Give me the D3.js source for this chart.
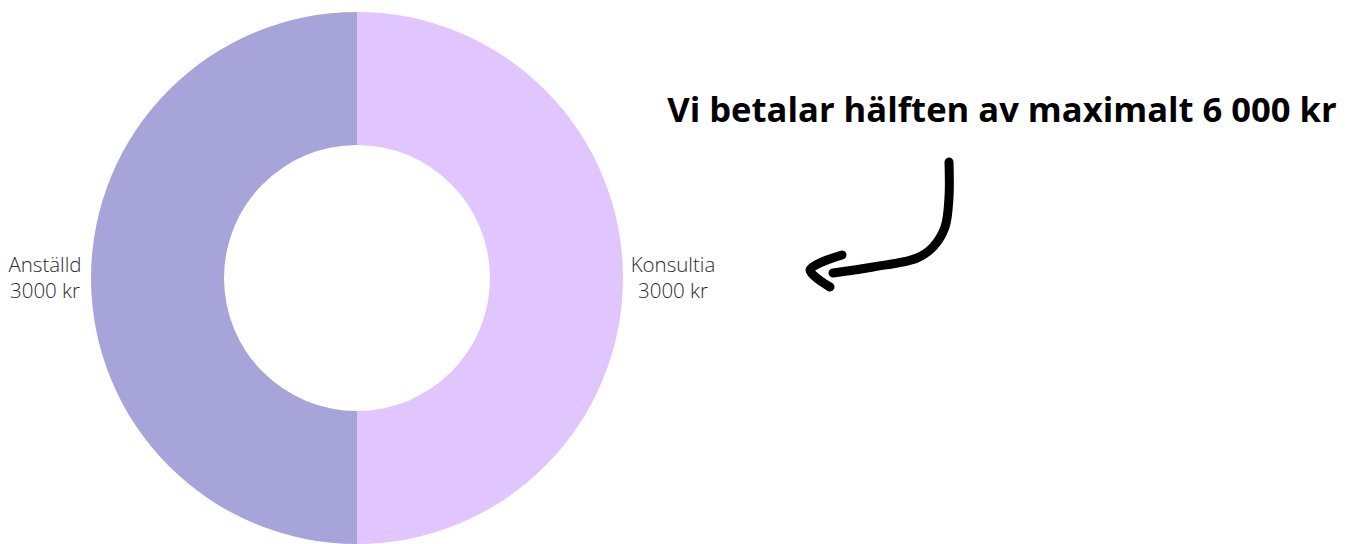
<!DOCTYPE html>
<html>
<head>
<meta charset="utf-8">
<script src="https://cdn.jsdelivr.net/npm/d3@7"></script>
<style>
  body { margin: 0; background: #fff; }
  svg { display: block; }
</style>
</head>
<body>
<div id="chart"></div>
<script>
"use strict";

// data
var categories = ["Konsultia", "Anställd"];
var values = [3000, 3000];
var valueLabels = ["3000 kr", "3000 kr"];
var colors = ["#e1c5fe", "#a6a4d8"];
var title = "Vi betalar hälften av maximalt 6 000 kr";

var width = 1355, height = 544;
var cx = 357, cy = 278;
var outerR = 266, innerR = 133;

var svg = d3.select("#chart")
        .append("svg")
        .attr("width", width)
        .attr("height", height);

var g = svg.append("g")
        .attr("transform", "translate(" + cx + "," + cy + ")");

var pie = d3.pie().sort(null).value(function (d) { return d; });
var arcs = pie(values);

var arc = d3.arc().innerRadius(innerR).outerRadius(outerR);
var labelArc = d3.arc().innerRadius(314).outerRadius(314);

g.selectAll("path.slice")
        .data(arcs)
        .enter()
        .append("path")
        .attr("class", "slice")
        .attr("d", arc)
        .attr("fill", function (d, i) { return colors[i]; });

// labels
var labels = g.selectAll("text.lbl")
        .data(arcs)
        .enter()
        .append("text")
        .attr("class", "lbl")
        .attr("transform", function (d) {
                var c = labelArc.centroid(d);
                return "translate(" + (c[0] + 2) + "," + c[1] + ")";
        })
        .attr("text-anchor", "middle")
        .style("font-family", "'Open Sans', sans-serif")
        .style("font-weight", 300)
        .style("font-size", "20.5px")
        .attr("fill", "#2b2b2b");

labels.append("tspan")
        .attr("x", 0)
        .attr("y", -6)
        .text(function (d, i) { return categories[i]; });
labels.append("tspan")
        .attr("x", 0)
        .attr("y", 20)
        .text(function (d, i) { return valueLabels[i]; });

// title
svg.append("text")
        .attr("x", 1002)
        .attr("y", 122)
        .attr("text-anchor", "middle")
        .style("font-family", "'Open Sans', sans-serif")
        .style("font-weight", 700)
        .style("font-size", "34.6px")
        .attr("fill", "#000")
        .text(title);

// hand drawn arrow
var shaft = [[949, 162], [949, 197], [945, 227], [933, 247], [917, 258], [873, 267], [833, 273]];
var head = [[842, 255], [810, 270], [830, 287]];
var line = d3.line().curve(d3.curveCatmullRom.alpha(0.5));

svg.append("path")
        .attr("d", line(shaft))
        .attr("fill", "none")
        .attr("stroke", "#000")
        .attr("stroke-width", 9)
        .attr("stroke-linecap", "round")
        .attr("stroke-linejoin", "round");
svg.append("path")
        .attr("d", line(head))
        .attr("fill", "none")
        .attr("stroke", "#000")
        .attr("stroke-width", 9)
        .attr("stroke-linecap", "round")
        .attr("stroke-linejoin", "round");
</script>
</body>
</html>
